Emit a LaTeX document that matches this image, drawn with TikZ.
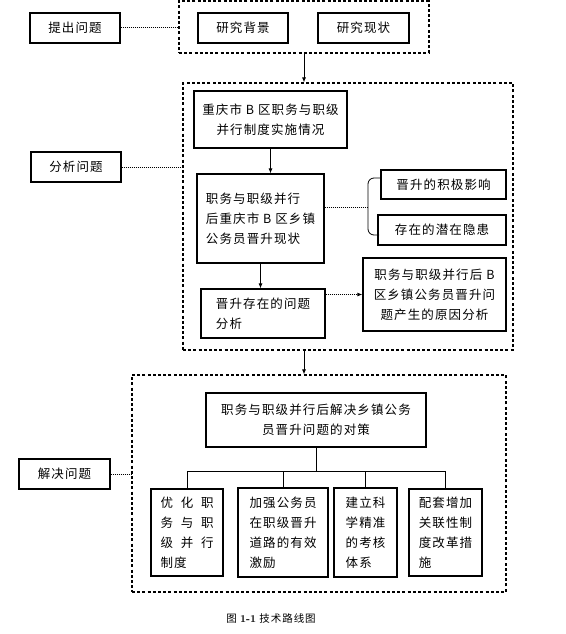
\documentclass[tikz,border=0pt]{standalone}
\usepackage{fontspec}
\newfontfamily\cjk[LetterSpace=9]{Noto Sans CJK SC}
\usetikzlibrary{positioning,arrows.meta}

\begin{document}
\begin{tikzpicture}[x=1pt,y=-1pt,
	font=\cjk\fontsize{12.5}{20}\selectfont,
	box/.style={draw=black, line width=1.2pt, inner sep=0pt, align=center},
	lbox/.style={box, align=left},
	group/.style={draw=black, line width=1.2pt, dash pattern=on 3pt off 2.2pt, inner sep=0pt},
	link/.style={line width=1pt, densely dotted},
	flow/.style={line width=0.8pt, -{Latex[length=5pt,width=4pt]}},
	]
	\useasboundingbox (0,0) rectangle (565,634);
	%Groups
	\node[group, minimum width=250pt, minimum height=52pt]   (grp1) at (304,27)    {};
	\node[group, minimum width=330pt, minimum height=267pt]  (grp2) at (348,216.5) {};
	\node[group, minimum width=374pt, minimum height=217pt]  (grp3) at (319,483.5) {};
	%Stage labels
	\node[box, minimum width=90pt, minimum height=30pt]      (ask)  at (75,28)     {提出问题};
	\node[box, minimum width=90pt, minimum height=30pt]      (ana)  at (76,167)    {分析问题};
	\node[box, minimum width=91pt, minimum height=30pt]      (sol)  at (64.5,474)  {解决问题};
	%Stage 1
	\node[box, minimum width=90pt, minimum height=30pt]      (bg)   at (243,28)    {研究背景};
	\node[box, minimum width=91pt, minimum height=30pt]      (st)   at (363.5,28)  {研究现状};
	%Stage 2
	\node[box, minimum width=153pt, minimum height=57pt]     (sa)   at (270.5,119.5) {重庆市 B 区职务与职级\\并行制度实施情况};
	\node[lbox, minimum width=127pt, minimum height=89pt]    (sb)   at (260.5,218.5) {职务与职级并行\\后重庆市 B 区乡镇\\公务员晋升现状};
	\node[box, minimum width=125pt, minimum height=29pt]     (sc)   at (443.5,184.5) {晋升的积极影响};
	\node[box, minimum width=128pt, minimum height=30pt]     (sd)   at (442,230)     {存在的潜在隐患};
	\node[lbox, minimum width=124pt, minimum height=49pt]    (se)   at (263,313.5)   {晋升存在的问题\\分析};
	\node[box, minimum width=143pt, minimum height=73pt]     (sf)   at (434.5,294.5) {职务与职级并行后 B\\区乡镇公务员晋升问\\题产生的原因分析};
	%Stage 3
	\node[box, minimum width=220pt, minimum height=54pt]     (sg)   at (316,420)     {职务与职级并行后解决乡镇公务\\员晋升问题的对策};
	\node[lbox, minimum width=72pt, minimum height=87pt]     (sh)   at (187,532.5)   {\makebox[53pt]{优\hfill 化\hfill 职}\\\makebox[53pt]{务\hfill 与\hfill 职}\\\makebox[53pt]{级\hfill 并\hfill 行}\\制度};
	\node[lbox, minimum width=90pt, minimum height=89pt]     (si)   at (283,532.5)   {加强公务员\\在职级晋升\\道路的有效\\激励};
	\node[lbox, minimum width=63pt, minimum height=89pt]     (sj)   at (365.5,532.5) {建立科\\学精准\\的考核\\体系};
	\node[lbox, minimum width=73pt, minimum height=87pt]     (sk)   at (445.5,532.5) {配套增加\\关联性制\\度改革措\\施};
	\node (cap) at (271,618) {\fontsize{10.5}{12}\selectfont 图 {\rmfamily\bfseries 1-1} 技术路线图};
	\coordinate (br)  at (367,207);
	\coordinate (bus) at (316,471);
	
	%Connectors
	\draw[link] (ask.east) -- (ask.east -| grp1.west);
	\draw[link] (ana.east) -- (ana.east -| grp2.west);
	\draw[link] (sol.east) -- (sol.east -| grp3.west);
	\draw[flow] (grp1.south) -- (grp1.south |- grp2.north);
	\draw[flow] (grp2.south -| grp1.south) -- (grp1.south |- grp3.north);
	\draw[flow] (sa.south) -- (sa.south |- sb.north);
	\draw[flow] (sb.south) -- (sb.south |- se.north);
	\draw[link, -{Latex[length=5pt,width=4pt]}] (sf.west -| se.east) -- (sf.west);
	\draw[link] (sb.east |- br) -- (br);
	\draw[line width=0.8pt, rounded corners=6pt] (381,178) -- (368,178) -- (368,235) -- (379,235);
	\draw[line width=0.8pt] (sg.south) -- (bus);
	\draw[line width=0.8pt] (bus -| sh.north) -- (bus -| sk.north);
	\draw[line width=0.8pt] (bus -| sh.north) -- (sh.north);
	\draw[line width=0.8pt] (bus -| si.north) -- (si.north);
	\draw[line width=0.8pt] (bus -| sj.north) -- (sj.north);
	\draw[line width=0.8pt] (bus -| sk.north) -- (sk.north);
\end{tikzpicture}
\end{document}
